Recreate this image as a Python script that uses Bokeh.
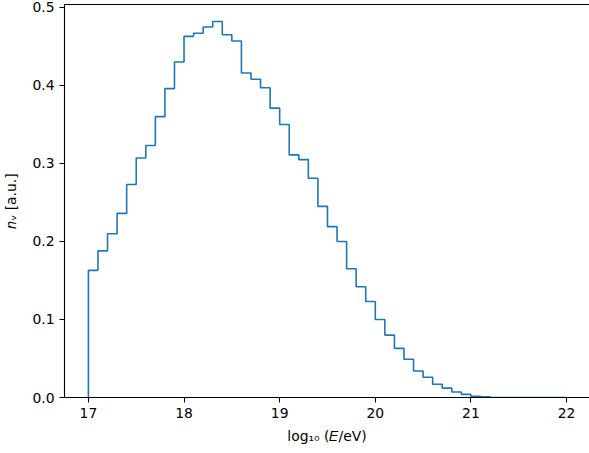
import numpy as np
from bokeh.plotting import figure
from bokeh.models import Range1d, FixedTicker, LinearAxis, CustomJSTickFormatter
from bokeh.embed import file_html
from bokeh.resources import INLINE

# histogram: log10(E/eV) bins of width 0.1 from 17 to 22
bin_start = 17.0
bin_width = 0.1
n_bins = 50
counts = [
    0.163, 0.188, 0.210, 0.236, 0.273, 0.307, 0.323, 0.360, 0.396, 0.430,
    0.463, 0.467, 0.475, 0.482, 0.465, 0.457, 0.416, 0.408, 0.397, 0.371,
    0.350, 0.311, 0.305, 0.281, 0.245, 0.219, 0.200, 0.165, 0.142, 0.123,
    0.100, 0.080, 0.063, 0.049, 0.034, 0.026, 0.017, 0.012, 0.007, 0.004,
    0.0015, 0.001, 0.0, 0.0, 0.0, 0.0, 0.0, 0.0, 0.0, 0.0,
]
x_ticks = [17, 18, 19, 20, 21, 22]
y_ticks = [0.0, 0.1, 0.2, 0.3, 0.4, 0.5]
x_label = "log₁₀ (𝐸/eV)"
y_label = "𝑛ᵥ [a.u.]"

edges = bin_start + bin_width * np.arange(n_bins + 1)
xs = [edges[0]]
ys = [0.0]
for i, c in enumerate(counts):
    xs += [edges[i], edges[i + 1]]
    ys += [c, c]
xs.append(edges[-1])
ys.append(0.0)

FONT = "DejaVu Sans"
FS = "13.9px"

X0, X1, Y0, Y1 = 16.75, 22.24, 0.0, 0.5038
p = figure(width=589, height=453, output_backend="svg", toolbar_location=None,
           x_range=Range1d(X0, X1), y_range=Range1d(Y0, Y1),
           min_border_left=64, min_border_right=0, min_border_top=4, min_border_bottom=56)
p.background_fill_color = "white"
p.border_fill_color = "white"
p.grid.visible = False
p.outline_line_color = None

p.line(xs, ys, line_color="#1f77b4", line_width=1.6)

bottom = p.below[0]
left = p.left[0]

# top spine (no ticks, no labels)
top = LinearAxis(ticker=FixedTicker(ticks=[]), major_tick_line_color=None,
                 minor_tick_line_color=None, axis_line_color="black",
                 axis_line_width=1.1, major_label_standoff=0)
p.add_layout(top, "above")

for ax in (bottom, left):
    ax.axis_line_color = "black"
    ax.axis_line_width = 1.1
    ax.major_tick_line_color = "black"
    ax.major_tick_line_width = 1.1
    ax.major_tick_out = 5
    ax.major_tick_in = 0
    ax.minor_tick_line_color = None
    ax.major_label_standoff = 5
    ax.major_label_text_font = FONT
    ax.major_label_text_font_size = FS
    ax.major_label_text_color = "black"
    ax.axis_label_text_font = FONT
    ax.axis_label_text_font_size = FS
    ax.axis_label_text_font_style = "normal"
    ax.axis_label_text_color = "black"
bottom.ticker = FixedTicker(ticks=x_ticks)
left.ticker = FixedTicker(ticks=y_ticks)
left.formatter = CustomJSTickFormatter(code="return tick.toFixed(1);")
bottom.axis_label = x_label
bottom.axis_label_standoff = 7
left.axis_label = y_label
left.axis_label_standoff = 10

open("out.html", "w").write(file_html(p, INLINE))
